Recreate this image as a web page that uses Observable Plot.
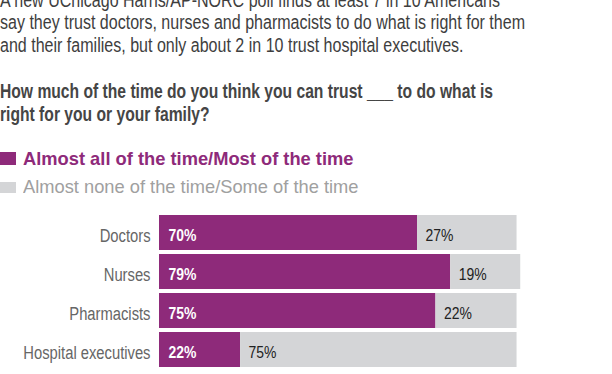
<!DOCTYPE html>
<html>
<head>
<meta charset="utf-8">
<script src="https://cdn.jsdelivr.net/npm/d3@7"></script>
<script src="https://cdn.jsdelivr.net/npm/@observablehq/plot@0.6"></script>
<style>
  html, body { margin: 0; padding: 0; background: #fff; width: 612px; height: 374px; overflow: hidden; }
  body { position: relative; font-family: "Liberation Sans", Arial, sans-serif; }
  .line { position: absolute; left: 0; white-space: nowrap; line-height: 1; transform-origin: 0 0; }
  .sw { position: absolute; left: 0; }
  #chart { position: absolute; left: 0; top: 205px; }
</style>
</head>
<body>
<div id="chart"></div>
<script>
const introLines = [
  "A new UChicago Harris/AP-NORC poll finds at least 7 in 10 Americans",
  "say they trust doctors, nurses and pharmacists to do what is right for them",
  "and their families, but only about 2 in 10 trust hospital executives."
];
const questionLines = [
  "How much of the time do you think you can trust ___ to do what is",
  "right for you or your family?"
];
const categories = ["Doctors", "Nurses", "Pharmacists", "Hospital executives"];
const trustValues = [70, 79, 75, 22];
const distrustValues = [27, 19, 22, 75];
const seriesNames = ["Almost all of the time/Most of the time", "Almost none of the time/Some of the time"];
const seriesColors = ["#8e2a7a", "#d4d5d7"];
const legendTextColors = ["#8e2a7a", "#a0a0a0"];

const NARROW = 0.82; // emulate a narrow sans face

function addLine(text, {left = 0, baseline, size, weight = "normal", color}) {
  const el = document.createElement("div");
  el.className = "line";
  el.textContent = text;
  el.style.fontSize = size + "px";
  el.style.fontWeight = weight;
  el.style.color = color;
  el.style.left = left + "px";
  el.style.top = (baseline - 0.8465 * size) + "px";
  document.body.appendChild(el);
  return el;
}
function fitBlock(els, refIndex, targetWidth) {
  const w = els[refIndex].getBoundingClientRect().width;
  const k = targetWidth / w;
  els.forEach(e => e.style.transform = `scaleX(${k})`);
}

const intro = introLines.map((t, i) => addLine(t, {baseline: 7 + i * 22.75, size: 19.5, color: "#3e3e3e"}));
fitBlock(intro, 1, 525);
const question = questionLines.map((t, i) => addLine(t, {baseline: 99 + i * 22.5, size: 19.5, weight: "bold", color: "#454545"}));
fitBlock(question, 0, 493);

const legendBaselines = [165, 193];
const legendTargets = [330.5, 335.5];
seriesNames.forEach((name, i) => {
  const sw = document.createElement("div");
  sw.className = "sw";
  sw.style.background = seriesColors[i];
  sw.style.width = "16px";
  sw.style.height = (i === 0 ? 13 : 11.5) + "px";
  sw.style.top = (i === 0 ? 152 : 181.5) + "px";
  document.body.appendChild(sw);
  const el = addLine(name, {left: 22.7, baseline: legendBaselines[i], size: 19, weight: i === 0 ? "bold" : "normal", color: legendTextColors[i]});
  fitBlock([el], 0, legendTargets[i]);
});

const rows = [];
categories.forEach((c, i) => {
  rows.push({category: c, series: seriesNames[0], x1: 0, x2: trustValues[i], value: trustValues[i]});
  rows.push({category: c, series: seriesNames[1], x1: trustValues[i], x2: trustValues[i] + distrustValues[i], value: distrustValues[i]});
});
const trustRows = rows.filter(d => d.series === seriesNames[0]);
const distrustRows = rows.filter(d => d.series === seriesNames[1]);

const plot = Plot.plot({
  width: 612,
  height: 169,
  marginLeft: 159,
  marginRight: 84.4,
  marginTop: 9,
  marginBottom: 5,
  style: {fontFamily: '"Liberation Sans", Arial, sans-serif', background: "#fff"},
  x: {domain: [0, 100], axis: null},
  y: {domain: categories, paddingInner: 0.1, paddingOuter: 0, label: null},
  color: {domain: seriesNames, range: seriesColors},
  marks: [
    Plot.barX(rows, {y: "category", x1: "x1", x2: "x2", fill: "series"}),
    Plot.text(trustRows, {y: "category", x: 0, text: d => d.value + "%", dx: 9, dy: 2.5, textAnchor: "start", fill: "#fff", fontWeight: "bold", fontSize: 17}),
    Plot.text(distrustRows, {y: "category", x: "x1", text: d => d.value + "%", dx: 8, dy: 2.5, textAnchor: "start", fill: "#222", fontSize: 17}),
    Plot.axisY({tickSize: 0, tickPadding: 9, fontSize: 18, fill: "#666", dy: 3, label: null})
  ]
});
document.getElementById("chart").appendChild(plot);
// narrow the glyphs horizontally (anchor stays put)
plot.querySelectorAll("text").forEach(t => {
  const len = t.getComputedTextLength();
  if (len > 0) {
    t.setAttribute("textLength", (len * NARROW).toFixed(2));
    t.setAttribute("lengthAdjust", "spacingAndGlyphs");
  }
});
</script>
</body>
</html>
